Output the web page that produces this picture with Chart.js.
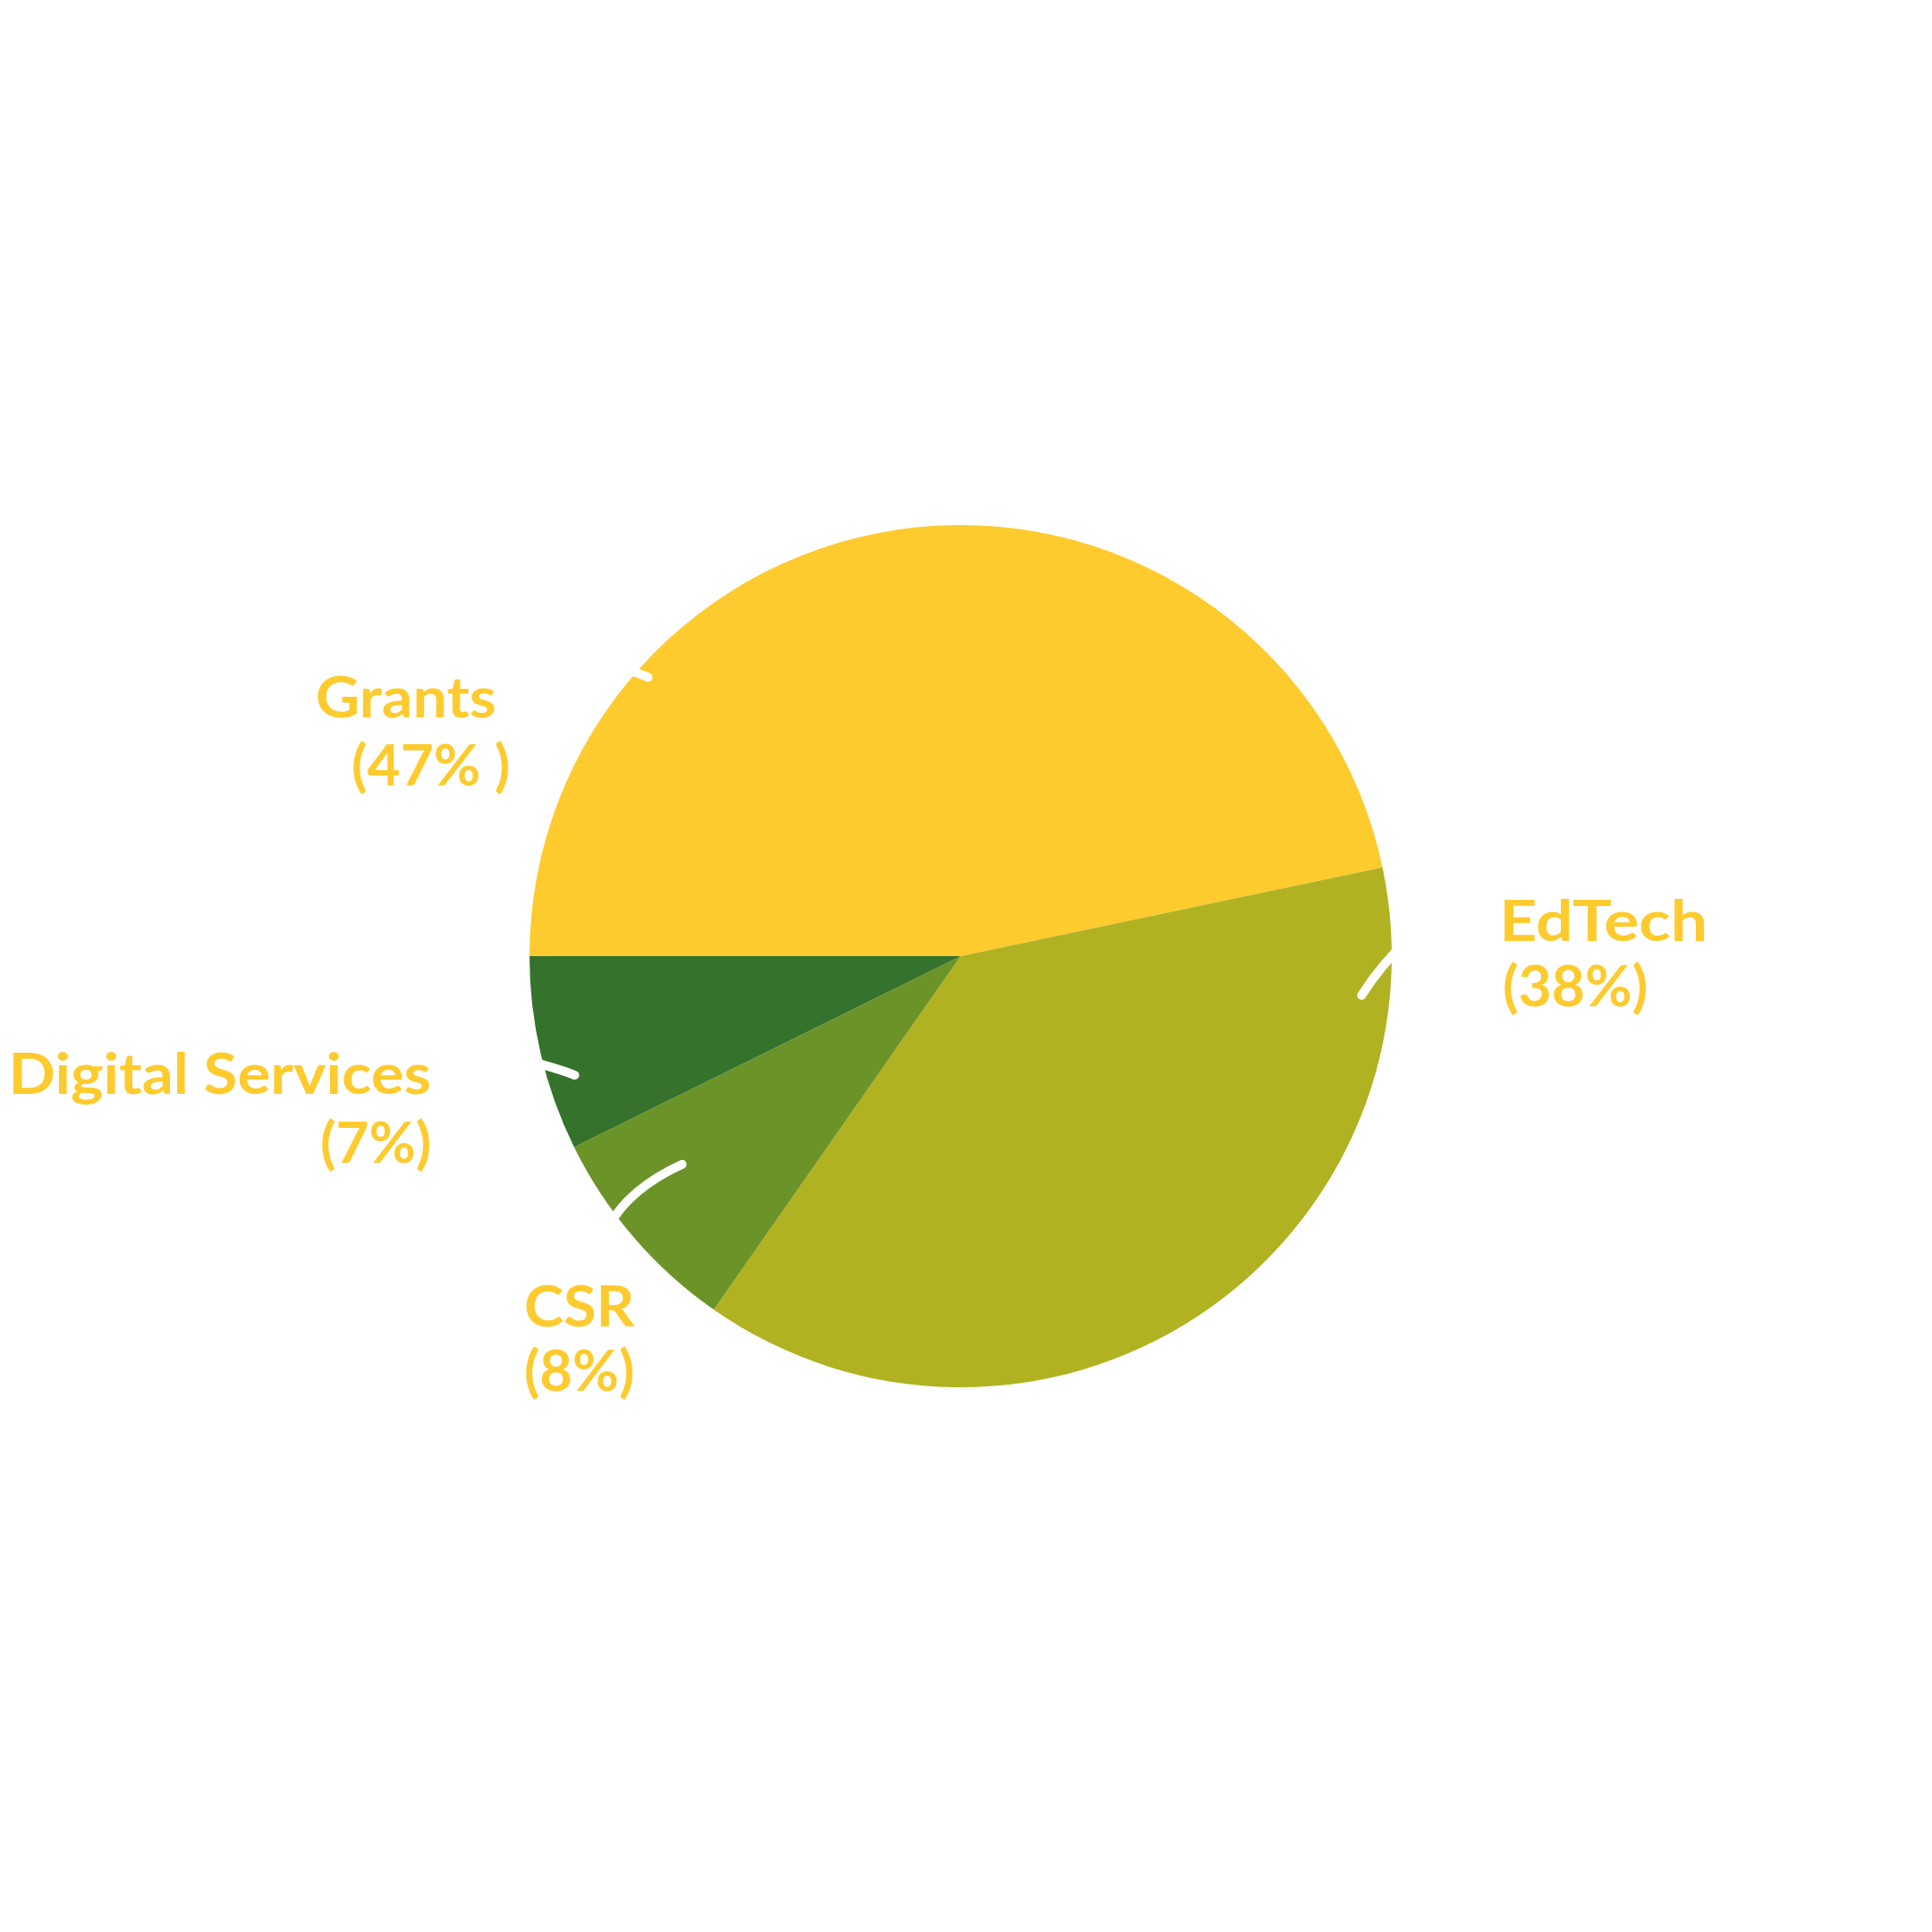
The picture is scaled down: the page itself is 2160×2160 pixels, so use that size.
<!DOCTYPE html>
<html>
<head>
<meta charset="utf-8">
<script src="https://cdn.jsdelivr.net/npm/chart.js@4/dist/chart.umd.min.js"></script>
<style>
  html, body { margin: 0; padding: 0; background: #ffffff; }
  #wrap { width: 2160px; height: 2160px; }
</style>
</head>
<body>
<div id="wrap"><canvas id="c" width="2160" height="2160"></canvas></div>
<script>
// ---- data ----
const categories = ['Grants', 'EdTech', 'CSR', 'Digital Services'];
const shares = [46.7, 38.0, 8.0, 7.3];
const shareLabels = ['(47% )', '(38%)', '(8%)', '(7%)'];
const sliceColors = ['#FECB2E', '#B1B221', '#6C9328', '#35722B'];

// ---- label layout (canvas px): ink left, ink right, baseline for each line ----
const labelLayout = [
  { name: [355, 553, 802],  pct: [395, 568, 878] },
  { name: [1682, 1905, 1052], pct: [1682, 1840, 1125] },
  { name: [588, 710, 1483], pct: [588, 707, 1555] },
  { name: [15, 480, 1223],  pct: [360, 480, 1300] }
];
// leader curves, in radius units relative to pie centre: start, control, end
const leaders = [
  { s: [-0.725, -0.647], c: [-0.756, -0.660], e: [-0.818, -0.678] },
  { s: [0.930, 0.091],   c: [0.976, 0.019],   e: [1.038, -0.039] },
  { s: [-0.646, 0.483],  c: [-0.769, 0.539],  e: [-0.818, 0.629] },
  { s: [-0.895, 0.276],  c: [-0.943, 0.257],  e: [-1.067, 0.226] }
];

function fitText(ctx, text, box) {
  const [L, R, base] = box;
  ctx.textAlign = 'left';
  ctx.textBaseline = 'alphabetic';
  const m = ctx.measureText(text);
  const inkL = -m.actualBoundingBoxLeft;
  const inkR = m.actualBoundingBoxRight;
  const s = (R - L) / (inkR - inkL);
  ctx.save();
  ctx.translate(L - inkL * s, base);
  ctx.scale(s, 1);
  ctx.fillText(text, 0, 0);
  ctx.restore();
}

const labelPlugin = {
  id: 'sliceLabels',
  afterDatasetsDraw(chart) {
    const ctx = chart.ctx;
    const meta = chart.getDatasetMeta(0);
    ctx.save();
    ctx.strokeStyle = '#ffffff';
    ctx.lineWidth = 10;
    ctx.lineCap = 'round';
    meta.data.forEach((arc, i) => {
      const p = arc.getProps(['x', 'y', 'outerRadius'], true);
      const L = leaders[i];
      const pt = (v) => [p.x + v[0] * p.outerRadius, p.y + v[1] * p.outerRadius];
      const s = pt(L.s), c = pt(L.c), e = pt(L.e);
      ctx.beginPath();
      ctx.moveTo(s[0], s[1]);
      ctx.quadraticCurveTo(c[0], c[1], e[0], e[1]);
      ctx.stroke();
    });
    ctx.fillStyle = '#FECB2E';
    ctx.font = '700 63px Lato, "Open Sans", sans-serif';
    categories.forEach((name, i) => {
      fitText(ctx, name, labelLayout[i].name);
      fitText(ctx, shareLabels[i], labelLayout[i].pct);
    });
    ctx.restore();
  }
};

new Chart(document.getElementById('c'), {
  type: 'pie',
  data: {
    labels: categories,
    datasets: [{
      data: shares,
      backgroundColor: sliceColors,
      borderWidth: 0
    }]
  },
  options: {
    responsive: false,
    animation: false,
    rotation: 270,
    layout: { padding: { left: 592, right: 604, top: 587, bottom: 609 } },
    plugins: {
      legend: { display: false },
      tooltip: { enabled: false },
      title: { display: false }
    }
  },
  plugins: [labelPlugin]
});
</script>
</body>
</html>
